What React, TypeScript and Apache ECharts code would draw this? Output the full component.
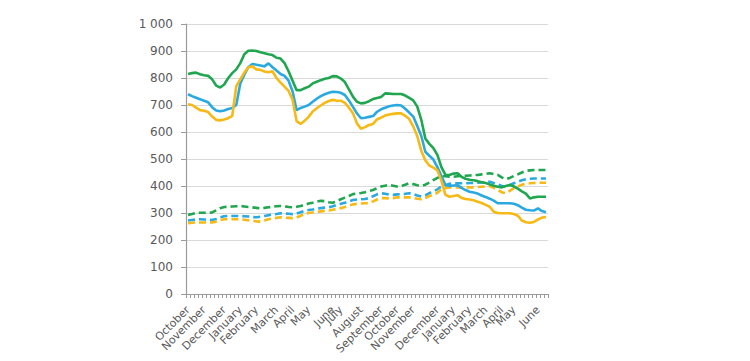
import React, { useEffect, useRef } from "react";
import * as echarts from "echarts";

// month label positions (index of weekly category) and names
const monthLabels: [number, string][] = [
  [0, "October"], [4, "November"], [9, "December"], [13, "January"], [17, "February"],
  [22, "March"], [26, "April"], [30, "May"], [36, "June"], [38, "July"], [43, "August"],
  [48, "September"], [52, "October"], [56, "November"], [62, "December"], [66, "January"],
  [70, "February"], [74, "March"], [78, "April"], [81, "May"], [87, "June"],
];
const weekCount = 90;

const yTicks = [0, 100, 200, 300, 400, 500, 600, 700, 800, 900, 1000];

const greenSolid = [
  815, 818, 820, 814, 810, 808, 795, 772, 765, 776, 800, 818, 832, 855, 888, 901, 902, 900, 895, 892,
  888, 885, 875, 872, 855, 825, 790, 755, 755, 762, 768, 780, 786, 792, 797, 800, 807, 806, 798, 785,
  758, 731, 712, 706, 708, 714, 722, 726, 730, 743, 742, 741, 741, 741, 735, 726, 717, 694, 645, 576,
  556, 540, 515, 470, 441, 441, 446, 447, 434, 427, 423, 421, 418, 414, 411, 406, 401, 397, 395, 400,
  404, 399, 390, 380, 372, 354, 358, 360, 360, 360,
];
const blueSolid = [
  740, 733, 727, 721, 716, 710, 692, 680, 677, 680, 685, 689, 700, 780, 812, 840, 852, 849, 846, 843,
  854, 840, 828, 815, 808, 790, 750, 681, 689, 694, 700, 712, 723, 733, 740, 745, 749, 748, 745, 737,
  717, 693, 669, 651, 653, 656, 659, 675, 684, 690, 695, 698, 700, 698, 686, 672, 657, 622, 585, 527,
  512, 498, 470, 437, 404, 400, 402, 403, 393, 385, 379, 376, 372, 365, 359, 353, 346, 336, 336, 336,
  336, 334, 329, 320, 312, 310, 309, 317, 307, 303,
];
const yellowSolid = [
  703, 700, 690, 681, 679, 674, 657, 645, 643, 646, 651, 660, 770, 795, 820, 840, 843, 832, 830, 824,
  821, 825, 800, 783, 768, 752, 720, 640, 630, 642, 656, 676, 688, 698, 708, 715, 719, 716, 716, 708,
  690, 670, 632, 612, 618, 626, 630, 647, 653, 661, 665, 667, 669, 669, 660, 648, 620, 585, 530, 495,
  476, 468, 458, 420, 367, 360, 363, 366, 356, 352, 350, 347, 342, 337, 330, 323, 305, 300, 299, 299,
  299, 296, 290, 272, 266, 264, 267, 276, 283, 285,
];
const greenDashed = [
  293, 296, 300, 301, 301, 301, 302, 310, 318, 322, 323, 324, 325, 326, 324, 322, 321, 319, 317, 319,
  321, 323, 325, 326, 325, 322, 321, 323, 326, 330, 335, 338, 342, 345, 344, 340, 338, 344, 351, 357,
  363, 370, 372, 374, 377, 381, 385, 392, 398, 401, 404, 401, 398, 399, 405, 410, 407, 403, 400, 405,
  413, 422, 430, 436, 436, 434, 434, 436, 437, 438, 439, 440, 441, 443, 445, 447, 444, 441, 432, 425,
  430, 437, 443, 450, 456, 458, 459, 459, 459, 459,
];
const blueDashed = [
  272, 274, 276, 277, 276, 275, 274, 278, 284, 288, 289, 289, 289, 289, 288, 287, 285, 284, 286, 289,
  292, 294, 296, 299, 298, 297, 296, 298, 303, 308, 311, 313, 316, 318, 320, 321, 325, 330, 334, 338,
  343, 348, 350, 351, 352, 355, 362, 369, 373, 371, 368, 367, 369, 370, 371, 373, 370, 365, 361, 365,
  374, 379, 388, 398, 403, 408, 410, 410, 410, 410, 411, 411, 412, 413, 414, 416, 411, 407, 400, 397,
  404, 410, 416, 421, 425, 427, 428, 428, 428, 428,
];
const yellowDashed = [
  262, 264, 265, 265, 265, 265, 265, 268, 274, 277, 277, 277, 277, 277, 275, 273, 271, 269, 268, 272,
  277, 280, 282, 284, 283, 282, 281, 283, 290, 297, 300, 302, 304, 306, 308, 309, 312, 315, 318, 322,
  327, 332, 334, 335, 336, 337, 343, 350, 355, 355, 354, 355, 358, 358, 358, 358, 356, 353, 351, 355,
  363, 367, 375, 388, 392, 395, 395, 395, 395, 395, 395, 395, 396, 397, 398, 400, 393, 385, 377, 373,
  382, 392, 398, 405, 409, 410, 411, 412, 412, 412,
];

const GREEN = "#1fa64f";
const BLUE = "#2aa9e0";
const YELLOW = "#f6b915";

export default function App() {
  const ref = useRef<HTMLDivElement>(null);
  useEffect(() => {
    if (!ref.current) return;
    const chart = echarts.init(ref.current, null, { renderer: "svg" });
    const labelMap = new Map<number, string>(monthLabels);
    const categories: string[] = [];
    for (let i = 0; i < weekCount; i++) categories.push(labelMap.get(i) ?? "");

    const mk = (name: string, data: number[], color: string, dashed: boolean) => ({
      name,
      type: "line",
      data,
      symbol: "none",
      smooth: false,
      lineStyle: { color, width: 2.6, type: dashed ? [7, 4] : "solid" },
      itemStyle: { color },
      z: dashed ? 2 : 3,
    });

    chart.setOption({
      animation: false,
      backgroundColor: "#ffffff",
      grid: { left: 186, right: 202, top: 24, bottom: 67, containLabel: false },
      xAxis: {
        type: "category",
        data: categories,
        boundaryGap: true,
        axisLine: { lineStyle: { color: "#9a9a9a", width: 1.2 } },
        axisTick: { show: true, interval: 0, length: 4, lineStyle: { color: "#9a9a9a" } },
        axisLabel: {
          interval: 0,
          rotate: 45,
          fontFamily: "DejaVu Sans",
          fontSize: 11,
          color: "#595959",
          margin: 14,
        },
        splitLine: { show: false },
      },
      yAxis: {
        type: "value",
        min: yTicks[0],
        max: yTicks[yTicks.length - 1],
        interval: 100,
        axisLine: { show: true, lineStyle: { color: "#9a9a9a", width: 1.2 } },
        axisTick: { show: true, length: 5, lineStyle: { color: "#9a9a9a" } },
        axisLabel: {
          fontFamily: "DejaVu Sans",
          fontSize: 12,
          color: "#595959",
          margin: 13,
          formatter: (v: number) => (v >= 1000 ? `${Math.floor(v / 1000)} ${String(v % 1000).padStart(3, "0")}` : String(v)),
        },
        splitLine: { show: true, lineStyle: { color: "#d9d9d9", width: 1.2 } },
      },
      series: [
        mk("Green (dashed)", greenDashed, GREEN, true),
        mk("Blue (dashed)", blueDashed, BLUE, true),
        mk("Yellow (dashed)", yellowDashed, YELLOW, true),
        mk("Green", greenSolid, GREEN, false),
        mk("Blue", blueSolid, BLUE, false),
        mk("Yellow", yellowSolid, YELLOW, false),
      ],
    });
    return () => chart.dispose();
  }, []);
  return (
    <div
      ref={ref}
      style={{ position: "fixed", left: 0, top: 0, width: 750, height: 361, background: "#fff" }}
    />
  );
}
